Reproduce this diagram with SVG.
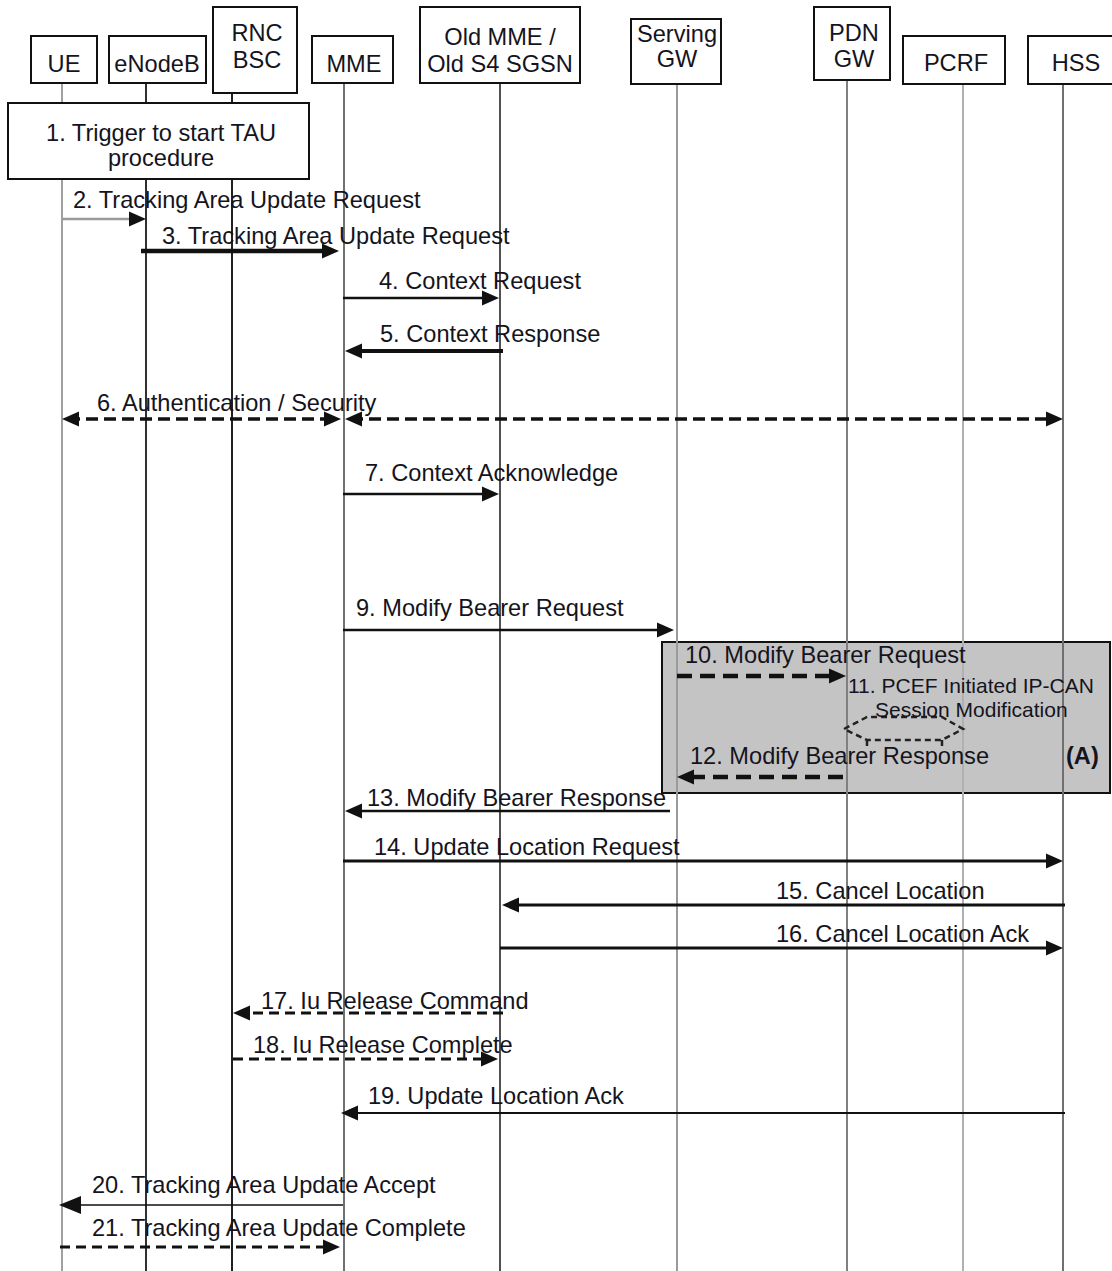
<svg xmlns="http://www.w3.org/2000/svg" width="1112" height="1271" viewBox="0 0 1112 1271">
<style>
text{font-family:"Liberation Sans",Arial,sans-serif;font-size:23.6px;fill:#141420}
.c{text-anchor:middle}
.box{fill:#fff;stroke:#111;stroke-width:2}
.ll{stroke-width:2;fill:none}
.m{stroke:#111;fill:none;marker-end:url(#ah)}
.d{stroke:#111;fill:none;stroke-dasharray:12 6;marker-end:url(#ah)}
</style>
<defs>
<marker id="ah" viewBox="0 0 17 17" markerUnits="userSpaceOnUse" markerWidth="17" markerHeight="17" refX="11" refY="8.5" orient="auto-start-reverse">
<path d="M0,1 L17,8.5 L0,16 z" fill="#111"/>
</marker>
<marker id="ah2" viewBox="0 0 22 18" markerUnits="userSpaceOnUse" markerWidth="22" markerHeight="18" refX="16" refY="9" orient="auto-start-reverse">
<path d="M0,0 L22,9 L0,18 z" fill="#111"/>
</marker>
</defs>
<rect x="0" y="0" width="1112" height="1271" fill="#fff"/>

<g id="procedure-A">
<rect x="662" y="642" width="448" height="151" fill="#c4c4c4" stroke="#111" stroke-width="2"/>
<text x="1066" y="764" style="font-weight:bold">(A)</text>
</g>

<g id="lifelines">
<line class="ll" x1="62" y1="83" x2="62" y2="1271" stroke="#a0a0a0"/>
<line class="ll" x1="146" y1="83" x2="146" y2="1271" stroke="#303030"/>
<line class="ll" x1="232" y1="93" x2="232" y2="1271" stroke="#202020"/>
<line class="ll" x1="344" y1="83" x2="344" y2="1271" stroke="#707070"/>
<line class="ll" x1="500" y1="83" x2="500" y2="1271" stroke="#505050"/>
<line class="ll" x1="677" y1="84" x2="677" y2="1271" stroke="#9a9a9a"/>
<line class="ll" x1="847" y1="80" x2="847" y2="1271" stroke="#808080"/>
<line class="ll" x1="963" y1="84" x2="963" y2="1271" stroke="#b0b0b0"/>
<line class="ll" x1="1063" y1="84" x2="1063" y2="1271" stroke="#707070"/>
</g>

<g id="UE"><rect class="box" x="31" y="36" width="66" height="47"/><text class="c" x="64" y="72">UE</text></g>
<g id="eNodeB"><rect class="box" x="109" y="36" width="97" height="47"/><text class="c" x="157" y="72">eNodeB</text></g>
<g id="RNC-BSC"><rect class="box" x="213" y="7" width="84" height="86"/><text class="c" x="257" y="41">RNC</text><text class="c" x="257" y="68">BSC</text></g>
<g id="MME"><rect class="box" x="312" y="36" width="81" height="47"/><text class="c" x="354" y="72">MME</text></g>
<g id="OldMME"><rect class="box" x="420" y="7" width="160" height="76"/><text class="c" x="500" y="45">Old MME /</text><text class="c" x="500" y="72">Old S4 SGSN</text></g>
<g id="ServingGW"><rect class="box" x="631" y="19" width="90" height="65"/><text class="c" x="677" y="42">Serving</text><text class="c" x="677" y="67">GW</text></g>
<g id="PDNGW"><rect class="box" x="814" y="7" width="76" height="73"/><text class="c" x="854" y="41">PDN</text><text class="c" x="854" y="67">GW</text></g>
<g id="PCRF"><rect class="box" x="903" y="36" width="102" height="48"/><text class="c" x="956" y="71">PCRF</text></g>
<g id="HSS"><rect class="box" x="1028" y="36" width="96" height="48"/><text class="c" x="1076" y="71">HSS</text></g>

<g id="step1"><rect class="box" x="8" y="103" width="301" height="76"/><text class="c" x="161" y="141">1. Trigger to start TAU</text><text class="c" x="161" y="166">procedure</text></g>

<g id="step11">
<path d="M844,729 L867,717 L942,717 L963,729 L942,740 L867,740 Z M867,740 L867,747 M942,740 L942,747" fill="none" stroke="#222" stroke-width="2.5" stroke-dasharray="6 4"/>
<text x="848" y="693" style="font-size:21px">11. PCEF Initiated IP-CAN</text>
<text x="875" y="717" style="font-size:21px">Session Modification</text>
</g>

<g id="connectors">
<line class="m" x1="62" y1="219" x2="140" y2="219" style="stroke:#9a9a9a" stroke-width="2.5"/>
<line class="m" x1="141" y1="251" x2="333" y2="251" stroke-width="4.5"/>
<line class="m" x1="343" y1="298" x2="493" y2="298" stroke-width="2.5"/>
<line class="m" x1="503" y1="351" x2="351" y2="351" stroke-width="4"/>
<line class="d" x1="68" y1="419" x2="335" y2="419" stroke-width="3.5" style="marker-start:url(#ah)"/>
<line class="d" x1="351" y1="419" x2="1057" y2="419" stroke-width="3.5" style="marker-start:url(#ah)"/>
<line class="m" x1="343" y1="494" x2="493" y2="494" stroke-width="2.5"/>
<line class="m" x1="343" y1="630" x2="668" y2="630" stroke-width="2.5"/>
<line class="d" x1="677" y1="676" x2="840" y2="676" stroke-width="4.5" style="stroke-dasharray:15 8"/>
<line class="d" x1="843" y1="777" x2="683" y2="777" stroke-width="4.5" style="stroke-dasharray:15 8"/>
<line class="m" x1="670" y1="811" x2="351" y2="811" stroke-width="2.5"/>
<line class="m" x1="343" y1="861" x2="1057" y2="861" stroke-width="3"/>
<line class="m" x1="1065" y1="905" x2="508" y2="905" stroke-width="3"/>
<line class="m" x1="500" y1="948" x2="1057" y2="948" stroke-width="3"/>
<line class="d" x1="503" y1="1013" x2="239" y2="1013" stroke-width="3" style="stroke-dasharray:10 6"/>
<line class="d" x1="233" y1="1059" x2="492" y2="1059" stroke-width="3" style="stroke-dasharray:10 6"/>
<line class="m" x1="1065" y1="1113" x2="347" y2="1113" stroke-width="2"/>
<line x1="343" y1="1205" x2="65" y2="1205" stroke="#111" stroke-width="1.6" marker-end="url(#ah2)"/>
<line class="d" x1="60" y1="1247" x2="334" y2="1247" stroke-width="3" style="stroke-dasharray:10 6"/>
</g>

<g id="labels">
<text x="73" y="208">2. Tracking Area Update Request</text>
<text x="162" y="244">3. Tracking Area Update Request</text>
<text x="379" y="289">4. Context Request</text>
<text x="380" y="342">5. Context Response</text>
<text x="97" y="411">6. Authentication / Security</text>
<text x="365" y="481">7. Context Acknowledge</text>
<text x="356" y="616">9. Modify Bearer Request</text>
<text x="685" y="663">10. Modify Bearer Request</text>
<text x="690" y="764">12. Modify Bearer Response</text>
<text x="367" y="806">13. Modify Bearer Response</text>
<text x="374" y="855">14. Update Location Request</text>
<text x="776" y="899">15. Cancel Location</text>
<text x="776" y="942">16. Cancel Location Ack</text>
<text x="261" y="1009">17. Iu Release Command</text>
<text x="253" y="1053">18. Iu Release Complete</text>
<text x="368" y="1104">19. Update Location Ack</text>
<text x="92" y="1193">20. Tracking Area Update Accept</text>
<text x="92" y="1236">21. Tracking Area Update Complete</text>
</g>
</svg>
